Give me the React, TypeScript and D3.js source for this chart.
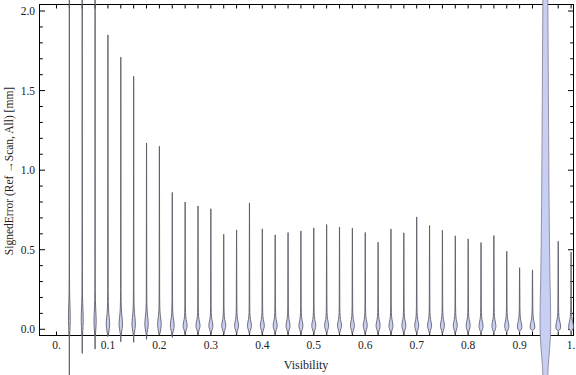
import * as d3 from 'd3';

// visibility bins (one violin each)
const visibility = [
  0.025, 0.05, 0.075, 0.1, 0.125, 0.15, 0.175, 0.2, 0.225, 0.25,
  0.275, 0.3, 0.325, 0.35, 0.375, 0.4, 0.425, 0.45, 0.475, 0.5,
  0.525, 0.55, 0.575, 0.6, 0.625, 0.65, 0.675, 0.7, 0.725, 0.75,
  0.775, 0.8, 0.825, 0.85, 0.875, 0.9, 0.925, 0.95, 0.975, 1.0,
];

// largest signed error per bin [mm]
const maxError = [
  2.2, 2.2, 2.2, 1.85, 1.71, 1.59, 1.17, 1.15, 0.86, 0.8,
  0.775, 0.757, 0.597, 0.624, 0.794, 0.631, 0.593, 0.608, 0.618, 0.637,
  0.658, 0.643, 0.635, 0.608, 0.547, 0.63, 0.606, 0.706, 0.652, 0.622,
  0.587, 0.568, 0.545, 0.589, 0.49, 0.387, 0.373, 2.3, 0.553, 0.486,
];

// smallest signed error per bin [mm]
const minError = [
  -0.4, -0.151, -0.124, -0.045, -0.078, -0.082, -0.063, -0.036, -0.05, -0.03,
  -0.03, -0.03, -0.03, -0.03, -0.03, -0.03, -0.03, -0.03, -0.03, -0.03,
  -0.03, -0.03, -0.03, -0.03, -0.03, -0.03, -0.03, -0.03, -0.03, -0.03,
  -0.03, -0.03, -0.015, -0.015, -0.015, -0.012, -0.008, -0.4, -0.01, -0.015,
];

// most frequent error per bin [mm]
const modeError = [
  0.08, 0.07, 0.06, 0.04, 0.04, 0.04, 0.04, 0.035, 0.03, 0.027,
  0.027, 0.027, 0.027, 0.027, 0.027, 0.027, 0.027, 0.027, 0.027, 0.027,
  0.027, 0.027, 0.027, 0.027, 0.027, 0.027, 0.027, 0.027, 0.027, 0.027,
  0.027, 0.027, 0.025, 0.025, 0.025, 0.022, 0.022, 0.0, 0.022, 0.022,
];

// relative peak density and how stretched the peak is
const peakDensity = [
  0.45, 0.5, 0.55, 0.85, 0.85, 0.85, 0.85, 0.9, 0.95, 1,
  1, 1, 1, 1, 1, 1, 1, 1, 1, 1,
  1, 1, 1, 1, 1, 1, 1, 1, 1, 1,
  1, 1, 1, 1, 1.05, 1.1, 1.15, 1, 1.2, 1.2,
];
const peakSpread = [
  3, 2.6, 2.3, 1.7, 1.7, 1.7, 1.6, 1.5, 1.3, 1,
  1, 1, 1, 1, 1, 1, 1, 1, 1, 1,
  1, 1, 1, 1, 1, 1, 1, 1, 1, 1,
  1, 1, 1, 1, 1, 1, 1, 1, 1.05, 1.05,
];

// shared drop-shaped density around the mode: offset [mm], relative density
const dropOffset = [-0.05, -0.035, -0.02, -0.008, 0.005, 0.02, 0.035, 0.055, 0.08, 0.12];
const dropDensity = [0.1, 0.45, 0.8, 1.0, 0.95, 0.75, 0.5, 0.3, 0.2, 0.14];

// the broad distribution at visibility 0.95
const wideIndex = 37;
const wideValue = [-0.4, -0.24, -0.1, 0.0, 0.1, 0.29, 0.81, 1.5, 2.07, 2.3];
const wideDensity = [1.0, 1.4, 2.25, 2.65, 2.65, 2.35, 1.85, 1.5, 1.25, 1.1];

const yTicks = [0, 0.5, 1, 1.5, 2];
const yMinorTicks = d3.range(0, 2.01, 0.1);
const xTicks = [0, 0.1, 0.2, 0.3, 0.4, 0.5, 0.6, 0.7, 0.8, 0.9, 1];
const xMinorTicks = [0, ...visibility];

const W = 576;
const H = 375;
const frame = { left: 39.5, right: 573.5, top: 4.5, bottom: 335.5 };

export default function App() {
  const x = d3.scaleLinear().domain([-0.033, 1.0047]).range([frame.left, frame.right]);
  const y = d3.scaleLinear().domain([-0.039, 2.041]).range([frame.bottom, frame.top]);
  const w = d3.scaleLinear().domain([0, 1]).range([0, 2]);

  const area = (cx: number) =>
    d3
      .area<[number, number]>()
      .curve(d3.curveMonotoneY)
      .y((d) => y(d[0]))
      .x0((d) => cx - w(d[1]))
      .x1((d) => cx + w(d[1]));

  const violins = visibility.map((v, i) => {
    let pts: [number, number][];
    if (i === wideIndex) {
      pts = wideValue.map((val, k) => [val, wideDensity[k]] as [number, number]);
    } else {
      const lo = minError[i];
      const hi = maxError[i];
      pts = [[lo, 0.05]];
      dropOffset.forEach((off, k) => {
        const val = modeError[i] + off * peakSpread[i];
        if (val > lo + 0.004 && val < hi - 0.004) pts.push([val, dropDensity[k] * peakDensity[i]]);
      });
      pts.push([hi, 0.03]);
    }
    return { v, wide: i === wideIndex, d: area(x(v))(pts) || '' };
  });

  const font = "'Liberation Serif', 'DejaVu Serif', serif";

  return (
    <div style={{ position: 'fixed', left: 0, top: 0 }}>
      <svg width={W} height={H} style={{ display: 'block', background: '#fff' }}>
        <rect x={frame.left} y={frame.top} width={frame.right - frame.left} height={frame.bottom - frame.top} fill="none" stroke="#000" strokeWidth={1} />

        {yMinorTicks.map((t) => {
          const major = yTicks.some((m) => Math.abs(m - t) < 1e-6);
          const len = major ? 5.5 : 3.3;
          return (
            <g key={'y' + t}>
              <line x1={frame.left} x2={frame.left + len} y1={y(t)} y2={y(t)} stroke="#000" strokeWidth={1} />
              <line x1={frame.right} x2={frame.right - len} y1={y(t)} y2={y(t)} stroke="#000" strokeWidth={1} />
            </g>
          );
        })}
        {xMinorTicks.map((t) => (
          <g key={'x' + t}>
            <line x1={x(t)} x2={x(t)} y1={frame.bottom} y2={frame.bottom - 4} stroke="#000" strokeWidth={1} />
            <line x1={x(t)} x2={x(t)} y1={frame.top} y2={frame.top + 4} stroke="#000" strokeWidth={1} />
          </g>
        ))}

        {violins.map((vl) => (
          <path
            key={vl.v}
            d={vl.d}
            fill="#c8cff3"
            stroke={vl.wide ? '#7c7c8c' : '#5a5a64'}
            strokeWidth={vl.wide ? 0.8 : 0.85}
          />
        ))}

        {yTicks.map((t) => (
          <text key={'yl' + t} x={35} y={y(t)} dy="0.35em" textAnchor="end" fontFamily={font} fontSize={11.5} fill="#222">
            {d3.format('.1f')(t)}
          </text>
        ))}
        {xTicks.map((t) => (
          <text key={'xl' + t} x={x(t)} y={349} textAnchor="middle" fontFamily={font} fontSize={11.5} fill="#222">
            {t === 0 ? '0.' : t === 1 ? '1.' : d3.format('.1f')(t)}
          </text>
        ))}

        <text x={306} y={369} textAnchor="middle" fontFamily={font} fontSize={12} fill="#222">
          Visibility
        </text>
        <text transform={`translate(13,171) rotate(-90)`} textAnchor="middle" fontFamily={font} fontSize={11.5} fill="#222">
          SignedError (Ref →Scan, All) [mm]
        </text>
      </svg>
    </div>
  );
}
